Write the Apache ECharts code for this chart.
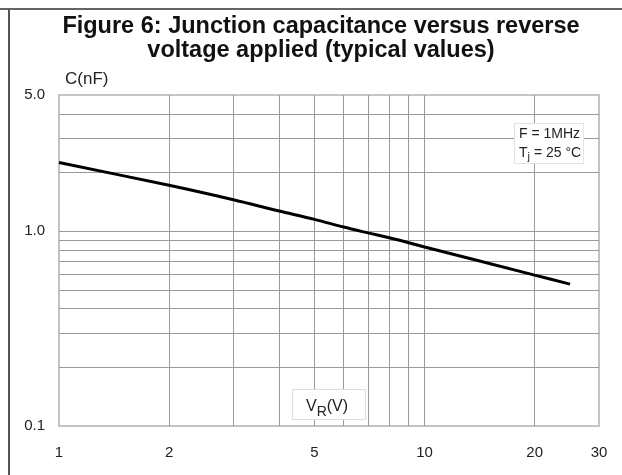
<!DOCTYPE html>
<html>
<head>
<meta charset="utf-8">
<script src="https://cdn.jsdelivr.net/npm/echarts@6/dist/echarts.min.js"></script>
<style>
html,body{margin:0;padding:0;background:#fff;}
#chart{width:622px;height:475px;}
</style>
</head>
<body>
<div id="chart"></div>
<script>
// Data
var voltage = [1, 2, 3, 4, 5, 6, 7, 8, 9, 10, 20, 25];
var capacitance = [2.25, 1.72, 1.45, 1.27, 1.15, 1.05, 0.98, 0.925, 0.875, 0.83, 0.595, 0.535];
var xTickLabels = [1, 2, 5, 10, 20, 30];
var yTickLabels = [0.1, 1, 5];
var xGridValues = [2, 3, 4, 5, 6, 7, 8, 9, 10, 20];
var yGridValues = [0.2, 0.3, 0.4, 0.5, 0.6, 0.7, 0.8, 0.9, 1, 2, 3, 4];

var chart = echarts.init(document.getElementById('chart'), null, {renderer: 'canvas'});
var FONT = '"Liberation Sans", Arial, sans-serif';

var option = {
  animation: false,
  backgroundColor: '#fff',
  title: {
    text: 'Figure 6: Junction capacitance versus reverse\nvoltage applied (typical values)',
    left: 316,
    top: 10,
    textAlign: 'center',
    textStyle: {fontFamily: FONT, fontSize: 23.5, fontWeight: 'bold', color: '#111', lineHeight: 24}
  },
  grid: {
    left: 59, right: 23, top: 95, bottom: 49,
    show: true, borderColor: '#c4c4c4', borderWidth: 2, backgroundColor: 'transparent'
  },
  xAxis: {
    type: 'log', logBase: 10, min: 1, max: 30,
    axisLine: {show: false},
    axisTick: {show: false, customValues: xGridValues},
    splitLine: {show: true, lineStyle: {color: '#9a9a9a', width: 1}},
    axisLabel: {
      customValues: xTickLabels, margin: 19,
      fontFamily: FONT, fontSize: 15, color: '#222',
      formatter: function (v) { return String(Math.round(v)); }
    }
  },
  yAxis: {
    type: 'log', logBase: 10, min: 0.1, max: 5,
    axisLine: {show: false},
    axisTick: {show: false, customValues: yGridValues},
    splitLine: {show: true, lineStyle: {color: '#9a9a9a', width: 1}},
    axisLabel: {
      customValues: yTickLabels, margin: 14,
      fontFamily: FONT, fontSize: 15, color: '#222',
      formatter: function (v) { return (Math.round(v * 10) / 10).toFixed(1); }
    }
  },
  graphic: [
    {type: 'line', shape: {x1: 0, y1: 9, x2: 622, y2: 9}, style: {stroke: '#666', lineWidth: 2}, z: 100},
    {type: 'line', shape: {x1: 9, y1: 9, x2: 9, y2: 475}, style: {stroke: '#555', lineWidth: 2}, z: 100},
    {type: 'text', left: 65, top: 71, style: {text: 'C(nF)', font: '17px ' + FONT, fill: '#222'}, z: 100},
    {type: 'text', left: 292, top: 389, z: 100,
      style: {
        text: '{v|V}{s|R}{v|(V)}',
        rich: {
          v: {fontFamily: FONT, fontSize: 16, fill: '#222', verticalAlign: 'bottom', lineHeight: 20},
          s: {fontFamily: FONT, fontSize: 14, fill: '#222', verticalAlign: 'bottom', lineHeight: 14, padding: [0, 0, -4, 0]}
        },
        backgroundColor: '#fff', borderColor: '#ddd', borderWidth: 1,
        padding: [5, 13, 4, 13], width: 46
      }
    },
    {type: 'text', left: 514, top: 123, z: 100,
      style: {
        text: '{a|F = 1MHz}\n{a|T}{j|j}{a| = 25 °C}',
        rich: {
          a: {fontFamily: FONT, fontSize: 14, fill: '#222', lineHeight: 19},
          j: {fontFamily: FONT, fontSize: 11, fill: '#222', lineHeight: 19, padding: [0, 0, -6, 0]}
        },
        backgroundColor: '#fff', borderColor: '#e2e2e2', borderWidth: 1,
        padding: [1, 2, 0, 4]
      }
    }
  ],
  series: [{
    type: 'line',
    data: voltage.map(function (v, i) { return [v, capacitance[i]]; }),
    showSymbol: false,
    smooth: 0.3,
    lineStyle: {color: '#000', width: 3},
    z: 10
  }]
};
chart.setOption(option);
</script>
</body>
</html>
